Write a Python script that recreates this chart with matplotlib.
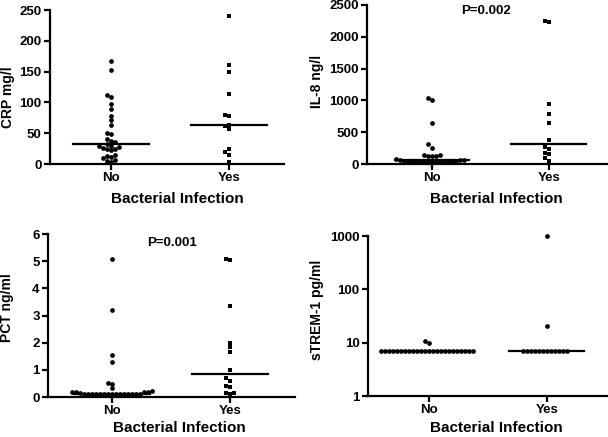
import numpy as np
import matplotlib
matplotlib.use("Agg")
import matplotlib.pyplot as plt

plt.rcParams['font.family'] = ['Liberation Sans', 'DejaVu Sans']
plt.rcParams['font.weight'] = 'bold'

W, H = 608, 437

groups = ['No', 'Yes']
xlabel = 'Bacterial Infection'

# values
crp_no = [168, 152, 112, 109, 98, 90, 78, 71, 63, 51, 49, 40, 38, 35, 32,
          30, 29, 27, 26, 25, 24, 22, 15, 13, 11, 9, 7, 5, 3]
crp_yes = [240, 161, 150, 114, 80, 78, 64, 62, 57, 24, 19, 14, 4]

il8_no = [1030, 1000, 640, 310, 250, 140, 135, 130, 125, 120, 80, 70, 65,
          60, 55, 50, 45, 40, 38, 36, 35, 34, 33, 32, 31, 30, 30, 30]
il8_yes = [2240, 2230, 950, 780, 650, 380, 260, 240, 180, 160, 100, 40]

pct_no = [5.08, 3.2, 1.55, 1.3, 0.52, 0.48, 0.33, 0.22, 0.2, 0.2, 0.18, 0.17,
          0.15, 0.12, 0.12, 0.1, 0.1, 0.1, 0.1, 0.1, 0.1, 0.1, 0.1, 0.1,
          0.1, 0.1, 0.1, 0.1]
pct_yes = [5.08, 5.05, 3.35, 2.0, 1.83, 1.65, 1.0, 0.69, 0.59, 0.42, 0.36,
           0.16, 0.13, 0.12]

strem_no = [10.6, 9.9] + [7.0] * 24
strem_yes = [1000, 20.3] + [7.0] * 12

panels = [
    dict(no=crp_no, yes=crp_yes, ylabel='CRP mg/l', ylim=(0, 250),
         yticks=[0, 50, 100, 150, 200, 250], rect=[0.0822, 0.6247, 0.385, 0.352],
         xlim=(0.483, 2.466), ylc=(-0.18, 0.435), xlc=(0.543, -0.227),
         ptext=None, log=False, ymark='s'),
    dict(no=il8_no, yes=il8_yes, ylabel='IL-8 ng/l', ylim=(0, 2500),
         yticks=[0, 500, 1000, 1500, 2000, 2500], rect=[0.6036, 0.6247, 0.3948, 0.364],
         xlim=(0.444, 2.5), ylc=(-0.21, 0.52), xlc=(0.54, -0.22),
         ptext=('P=0.002', 1.46, 2405), log=False, ymark='s'),
    dict(no=pct_no, yes=pct_yes, ylabel='PCT ng/ml', ylim=(0, 6),
         yticks=[0, 1, 2, 3, 4, 5, 6], rect=[0.079, 0.0915, 0.406, 0.373],
         xlim=(0.458, 2.55), ylc=(-0.166, 0.546), xlc=(0.534, -0.19),
         ptext=('P=0.001', 1.51, 5.67), log=False, ymark='s'),
    dict(no=strem_no, yes=strem_yes, ylabel='sTREM-1 pg/ml', ylim=(1, 1000),
         yticks=[1, 10, 100, 1000], rect=[0.605, 0.0938, 0.393, 0.366],
         xlim=(0.483, 2.51), ylc=(-0.213, 0.54), xlc=(0.536, -0.2),
         ptext=None, log=True, ymark='o'),
]


def swarm_x(p, xc, vals, diam):
    # spread points sideways (in pixels) so they do not overlap
    x0, x1 = p['xlim']
    y0, y1 = p['ylim']
    wpx = p['rect'][2] * W
    hpx = p['rect'][3] * H
    v = np.asarray(vals, float)
    if p['log']:
        ypix = (np.log10(v) - np.log10(y0)) / (np.log10(y1) - np.log10(y0)) * hpx
    else:
        ypix = (v - y0) / (y1 - y0) * hpx
    placed = []
    offs = np.zeros(len(v))
    for i in np.argsort(ypix):
        y = ypix[i]
        k = 0
        while True:
            off = (k + 1) // 2 * diam * (-1 if k % 2 else 1)
            if all((px - off) ** 2 + (py - y) ** 2 >= (diam * 0.98) ** 2
                   for px, py in placed):
                break
            k += 1
        placed.append((off, y))
        offs[i] = off
    return xc + offs * (x1 - x0) / wpx


fig = plt.figure(figsize=(W / 100, H / 100), dpi=100)

for p in panels:
    ax = fig.add_axes(p['rect'])
    if p['log']:
        ax.set_yscale('log')
    ax.set_xlim(*p['xlim'])
    ax.set_ylim(*p['ylim'])
    for s in ['top', 'right']:
        ax.spines[s].set_visible(False)
    for s in ['left', 'bottom']:
        ax.spines[s].set_linewidth(1.6)
    ax.set_xticks([1, 2])
    ax.set_xticklabels(groups)
    ax.set_yticks(p['yticks'])
    ax.set_yticklabels([str(t) for t in p['yticks']])
    ax.minorticks_off()
    ax.tick_params(axis='both', width=1.6, length=4, pad=2, labelsize=9.5)
    for lab in ax.get_xticklabels() + ax.get_yticklabels():
        lab.set_fontweight('bold')

    for xc, vals, mk in [(1, p['no'], 'o'), (2, p['yes'], p['ymark'])]:
        xs = swarm_x(p, xc, vals, 4.0)
        ax.plot(xs, vals, mk, color='black', ms=3.4 if mk == 'o' else 3.1,
                mew=0, clip_on=False, zorder=3)
        med = np.median(vals)
        ax.plot([xc - 0.32, xc + 0.32], [med, med], color='black', lw=1.6,
                zorder=2)

    ax.set_ylabel(p['ylabel'], fontsize=10, fontweight='bold')
    ax.yaxis.set_label_coords(*p['ylc'])
    ax.yaxis.label.set_va('center')
    ax.set_xlabel(xlabel, fontsize=11, fontweight='bold')
    ax.xaxis.set_label_coords(*p['xlc'])
    ax.xaxis.label.set_va('center')
    if p['ptext']:
        t, tx, ty = p['ptext']
        ax.text(tx, ty, t, ha='center', va='center', fontsize=9.5,
                fontweight='bold')

fig.savefig('out.png', dpi=100)
